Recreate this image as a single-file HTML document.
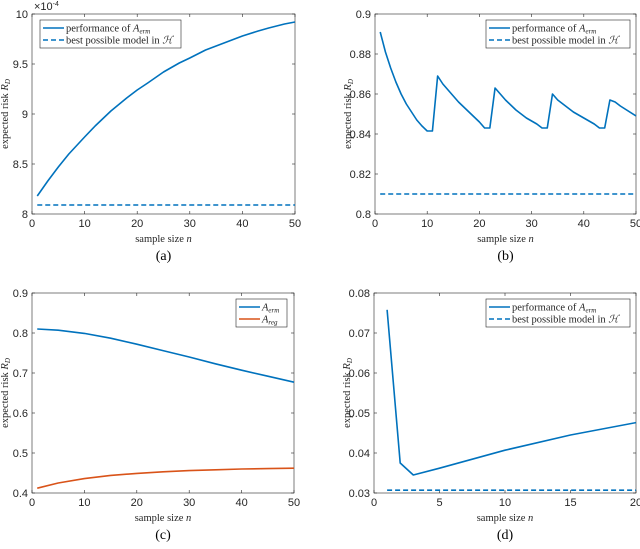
<!DOCTYPE html>
<html><head><meta charset="utf-8"><style>
body{margin:0;background:#fff;width:640px;height:549px;overflow:hidden}
svg{display:block}
.tk{font-family:"Liberation Sans",sans-serif;font-size:11px;fill:#262626}
.lb{font-family:"Liberation Serif",serif;font-size:10.5px;fill:#262626}
.cap{font-family:"Liberation Serif",serif;font-size:14px;fill:#000}
</style></head><body>
<svg id="s" width="640" height="549"></svg>
<script>
// chart (a)
const aX=[1,3,5,7,10,12,15,18,20,22,25,28,30,33,35,38,40,43,45,48,50];
const aY=[8.18,8.33,8.47,8.60,8.77,8.88,9.03,9.16,9.24,9.31,9.42,9.51,9.56,9.64,9.68,9.74,9.78,9.83,9.86,9.90,9.92];
const aBest=8.09;
const aTicksY=[8,8.5,9,9.5,10];
const aTicksX=[0,10,20,30,40,50];
// chart (b)
const bX=[1,2,3,4,5,6,7,8,9,10,11,12,13,14,16,18,20,21,22,23,24,25,27,29,31,32,33,34,35,36,38,40,42,43,44,45,46,47,50];
const bY=[0.891,0.881,0.873,0.866,0.860,0.855,0.851,0.847,0.844,0.8415,0.8415,0.869,0.865,0.862,0.856,0.851,0.846,0.843,0.843,0.863,0.860,0.857,0.852,0.848,0.845,0.843,0.843,0.860,0.857,0.855,0.851,0.848,0.845,0.843,0.843,0.857,0.856,0.854,0.849];
const bBest=0.81;
const bTicksY=[0.8,0.82,0.84,0.86,0.88,0.9];
const bTicksX=[0,10,20,30,40,50];
// chart (c)
const cX=[1,5,10,15,20,25,30,35,40,45,50];
const cErm=[0.81,0.807,0.799,0.787,0.772,0.756,0.740,0.723,0.707,0.692,0.677];
const cReg=[0.412,0.425,0.436,0.444,0.449,0.453,0.456,0.458,0.460,0.461,0.462];
const cTicksY=[0.4,0.5,0.6,0.7,0.8,0.9];
const cTicksX=[0,10,20,30,40,50];
// chart (d)
const dX=[1,2,3,5,10,15,20];
const dY=[0.0758,0.0375,0.0345,0.0362,0.0407,0.0445,0.0476];
const dBest=0.0307;
const dTicksY=[0.03,0.04,0.05,0.06,0.07,0.08];
const dTicksX=[0,5,10,15,20];

const NS="http://www.w3.org/2000/svg";
const svg=document.getElementById('s');
function el(t,a,p){const e=document.createElementNS(NS,t);for(const k in a)e.setAttribute(k,a[k]);(p||svg).appendChild(e);return e;}
function txt(x,y,s,cls,anchor,p){const e=el('text',{x:x,y:y,class:cls,'text-anchor':anchor||'middle'},p);e.innerHTML=s;return e;}

function chart(name,box,xr,yr,tx,ty,fmt,cap,capY){
  const g=el('g',{});
  
  
  const [x0,y0,x1,y1]=box;
  const sx=v=>x0+(v-xr[0])/(xr[1]-xr[0])*(x1-x0);
  const sy=v=>y1-(v-yr[0])/(yr[1]-yr[0])*(y1-y0);
  const fr=el('rect',{x:x0,y:y0,width:x1-x0,height:y1-y0,fill:'#fff',stroke:'#262626','stroke-width':0.6},g);
  
  
  tx.forEach(v=>{const X=sx(v);
    el('line',{x1:X,x2:X,y1:y1,y2:y1-3,stroke:'#262626','stroke-width':0.6},g);
    el('line',{x1:X,x2:X,y1:y0,y2:y0+3,stroke:'#262626','stroke-width':0.6},g);
    const t=txt(X,y1+13,String(v),'tk','middle',g);
    
    
  });
  ty.forEach(v=>{const Y=sy(v);
    el('line',{x1:x0,x2:x0+3,y1:Y,y2:Y,stroke:'#262626','stroke-width':0.6},g);
    el('line',{x1:x1,x2:x1-3,y1:Y,y2:Y,stroke:'#262626','stroke-width':0.6},g);
    const t=txt(x0-4,Y+4,fmt(v),'tk','end',g);
    
    
  });
  const xl=txt((x0+x1)/2,y1+28,'sample size <tspan font-style="italic">n</tspan>','lb','middle',g);
  
  
  const yl=txt(0,0,'expected risk <tspan font-style="italic">R</tspan><tspan font-size="7" dy="2" font-style="italic">D</tspan>','lb','middle',g);
  yl.setAttribute('transform','translate('+(x0-24)+','+((y0+y1)/2)+') rotate(-90)');
  
  
  const c=txt((x0+x1)/2,capY,cap,'cap','middle',g);
  
  
  return {g,sx,sy};
}
function line(ch,xs,ys,color,name){
  const p=el('polyline',{points:xs.map((x,i)=>ch.sx(x)+','+ch.sy(ys[i])).join(' '),fill:'none',stroke:color,'stroke-width':1.6,'stroke-linejoin':'round'},ch.g);
  
  
}
function hline(ch,xa,xb,y,color,name){
  const p=el('line',{x1:ch.sx(xa),x2:ch.sx(xb),y1:ch.sy(y),y2:ch.sy(y),stroke:color,'stroke-width':1.6,'stroke-dasharray':'5,3'},ch.g);
  
  
}
function legend(ch,x,y,w,h,items){
  const lg=el('g',{},ch.g);
  
  
  el('rect',{x:x,y:y,width:w,height:h,fill:'#fff',stroke:'#262626','stroke-width':0.6},lg);
  items.forEach((it,i)=>{const Y=y+8+i*12;
    el('line',{x1:x+3,x2:x+24,y1:Y,y2:Y,stroke:it.c,'stroke-width':1.6,'stroke-dasharray':it.d?'5,3':'none'},lg);
    const t=txt(x+26,Y+3.5,it.t,'lb','start',lg);
    
    
  });
}
const B='#0072BD',O='#D95319';
const erm='performance of <tspan font-style="italic">A</tspan><tspan font-size="7" dy="2" font-style="italic">erm</tspan>';
const best='best possible model in <tspan font-style="italic">ℋ</tspan>';

const A=chart('chart-a',[32,14,295,214],[0,50],[8,10],aTicksX,aTicksY,v=>String(v),'(a)',260);
txt(34,10,'×10<tspan font-size="7" dy="-4">-4</tspan>','tk','start',A.g);
line(A,aX,aY,B,'erm-line');
hline(A,1,50,aBest,B,'best-model-line');
legend(A,40,20,141,28,[{c:B,t:erm},{c:B,d:1,t:best}]);

const Bc=chart('chart-b',[375,14,636,214],[0,50],[0.8,0.9],bTicksX,bTicksY,v=>String(+v.toFixed(2)),'(b)',260);
line(Bc,bX,bY,B,'erm-line');
hline(Bc,1,50,bBest,B,'best-model-line');
legend(Bc,486,20,144,28,[{c:B,t:erm},{c:B,d:1,t:best}]);

const C=chart('chart-c',[32,293,294,493],[0,50],[0.4,0.9],cTicksX,cTicksY,v=>String(+v.toFixed(1)),'(c)',539);
line(C,cX,cErm,B,'erm-line');
line(C,cX,cReg,O,'reg-line');
legend(C,236,299,51,28,[{c:B,t:'<tspan font-style="italic">A</tspan><tspan font-size="7" dy="2" font-style="italic">erm</tspan>'},{c:O,t:'<tspan font-style="italic">A</tspan><tspan font-size="7" dy="2" font-style="italic">reg</tspan>'}]);

const D=chart('chart-d',[374,293,636,493],[0,20],[0.03,0.08],dTicksX,dTicksY,v=>String(+v.toFixed(2)),'(d)',539);
line(D,dX,dY,B,'erm-line');
hline(D,1,20,dBest,B,'best-model-line');
legend(D,486,299,144,28,[{c:B,t:erm},{c:B,d:1,t:best}]);
</script>
</body></html>
